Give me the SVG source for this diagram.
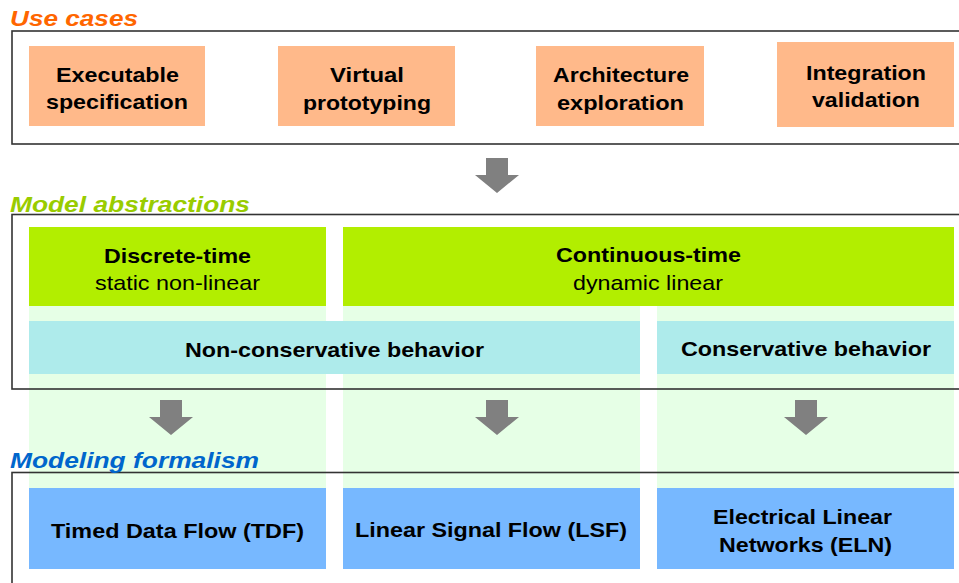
<svg xmlns="http://www.w3.org/2000/svg" width="959" height="583" viewBox="0 0 959 583">
<style>
.frame{fill:none;stroke:#333;stroke-width:1.6}
.uc{fill:#FFB98A}
.ma{fill:#B2EE00}
.bg{fill:#E6FFE6}
.cy{fill:#AEEBEB}
.fm{fill:#77B8FF}
.arrow{fill:#808080}
text{font-family:"Liberation Sans",Arial,sans-serif;fill:#000}
.t{font-size:22px;font-weight:bold;font-style:italic}
.b{font-size:21px;font-weight:bold}
.r{font-size:21px}
</style>
<rect width="959" height="583" fill="#fff"/>
<g id="columns">
<rect class="bg" x="29" y="227" width="297" height="262"/>
<rect class="bg" x="343" y="227" width="297" height="262"/>
<rect class="bg" x="657" y="227" width="297" height="262"/>
</g>
<g id="frames">
<rect class="frame" x="12" y="31" width="960" height="113"/>
<rect class="frame" x="12" y="214.5" width="960" height="174.5"/>
<rect class="frame" x="12" y="472.5" width="960" height="130"/>
</g>
<g id="titles">
<text class="t" x="10" y="26" fill="#FF6600" style="fill:#FF6600" textLength="128" lengthAdjust="spacingAndGlyphs">Use cases</text>
<text class="t" x="10" y="212" style="fill:#99CC00" textLength="240" lengthAdjust="spacingAndGlyphs">Model abstractions</text>
<text class="t" x="10" y="468" style="fill:#0066CC" textLength="249" lengthAdjust="spacingAndGlyphs">Modeling formalism</text>
</g>
<g id="uc-executable">
<rect class="uc" x="29" y="46" width="176" height="80"/>
<text class="b" x="56" y="82" textLength="123" lengthAdjust="spacingAndGlyphs">Executable</text>
<text class="b" x="46" y="109" textLength="142" lengthAdjust="spacingAndGlyphs">specification</text>
</g>
<g id="uc-virtual">
<rect class="uc" x="278" y="46" width="177" height="80"/>
<text class="b" x="330" y="82" textLength="74" lengthAdjust="spacingAndGlyphs">Virtual</text>
<text class="b" x="303" y="110" textLength="128" lengthAdjust="spacingAndGlyphs">prototyping</text>
</g>
<g id="uc-architecture">
<rect class="uc" x="536" y="46" width="168" height="80"/>
<text class="b" x="553" y="82" textLength="136" lengthAdjust="spacingAndGlyphs">Architecture</text>
<text class="b" x="557" y="110" textLength="127" lengthAdjust="spacingAndGlyphs">exploration</text>
</g>
<g id="uc-integration">
<rect class="uc" x="777" y="42" width="177" height="85"/>
<text class="b" x="806" y="80" textLength="120" lengthAdjust="spacingAndGlyphs">Integration</text>
<text class="b" x="812" y="107" textLength="108" lengthAdjust="spacingAndGlyphs">validation</text>
</g>
<g id="ma-discrete">
<rect class="ma" x="29" y="227" width="297" height="79"/>
<text class="b" x="104" y="262.5" textLength="147" lengthAdjust="spacingAndGlyphs">Discrete-time</text>
<text class="r" x="95" y="290" textLength="165" lengthAdjust="spacingAndGlyphs">static non-linear</text>
</g>
<g id="ma-continuous">
<rect class="ma" x="343" y="227" width="611" height="79"/>
<text class="b" x="556" y="262" textLength="185" lengthAdjust="spacingAndGlyphs">Continuous-time</text>
<text class="r" x="573" y="289.5" textLength="150" lengthAdjust="spacingAndGlyphs">dynamic linear</text>
</g>
<g id="ma-nonconservative">
<rect class="cy" x="29" y="321" width="611" height="53"/>
<text class="b" x="185" y="356.5" textLength="299" lengthAdjust="spacingAndGlyphs">Non-conservative behavior</text>
</g>
<g id="ma-conservative">
<rect class="cy" x="657" y="321" width="297" height="53"/>
<text class="b" x="681" y="356" textLength="250" lengthAdjust="spacingAndGlyphs">Conservative behavior</text>
</g>
<g id="fm-tdf">
<rect class="fm" x="29" y="488" width="297" height="81"/>
<text class="b" x="51" y="537.5" textLength="253" lengthAdjust="spacingAndGlyphs">Timed Data Flow (TDF)</text>
</g>
<g id="fm-lsf">
<rect class="fm" x="343" y="488" width="297" height="81"/>
<text class="b" x="355" y="537" textLength="272" lengthAdjust="spacingAndGlyphs">Linear Signal Flow (LSF)</text>
</g>
<g id="fm-eln">
<rect class="fm" x="657" y="488" width="297" height="81"/>
<text class="b" x="713" y="523.5" textLength="179" lengthAdjust="spacingAndGlyphs">Electrical Linear</text>
<text class="b" x="719" y="551.5" textLength="173" lengthAdjust="spacingAndGlyphs">Networks (ELN)</text>
</g>
<g id="connectors">
<path class="arrow" d="M486,158H508V175H519L497,193L475,175H486Z"/>
<path class="arrow" d="M160,400H182V417H193L171,435L149,417H160Z"/>
<path class="arrow" d="M486,400H508V417H519L497,435L475,417H486Z"/>
<path class="arrow" d="M795,400H817V417H828L806,435L784,417H795Z"/>
</g>
</svg>
